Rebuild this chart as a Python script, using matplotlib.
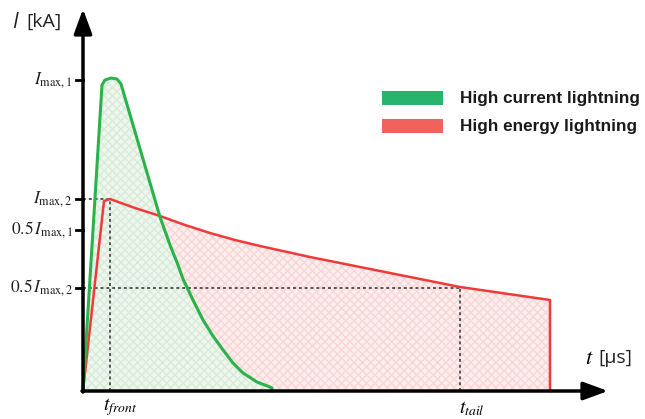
import matplotlib.pyplot as plt

plt.rcParams['mathtext.fontset'] = 'stix'

# waveform points (t in arbitrary units, I in arbitrary units)
t_green = [0, 19, 22, 28, 34, 38, 77, 87, 95, 100, 110, 120, 130, 140, 150, 160, 174, 187, 189, 189]
i_green = [0, 306, 311, 313, 312, 307, 174, 146, 126, 112, 91, 71, 55, 41, 28, 18, 9, 4, 3, 0]

t_red = [0, 21, 27, 52, 77, 102, 127, 152, 177, 227, 277, 327, 377, 467, 467]
i_red = [0, 190, 192, 183, 175, 166, 158, 151, 145, 134, 124, 114, 104, 91, 0]

tick_vals = [311, 192, 161, 103]
tick_labels = [r'$I_{\mathrm{max,1}}$', r'$I_{\mathrm{max,2}}$',
               r'$0.5\,I_{\mathrm{max,1}}$', r'$0.5\,I_{\mathrm{max,2}}$']

t_front, t_tail = 27, 377
legend_names = ['High current lightning', 'High energy lightning']

green_line = '#2bb34b'
red_line = '#f03a3a'

fig = plt.figure(figsize=(6.45, 4.19), dpi=100)
ax = fig.add_axes([0, 0, 1, 1])
ax.set_xlim(-83, 562)
ax.set_ylim(-28, 391)
ax.axis('off')

# fills
ax.fill(t_red, i_red, facecolor='#fdeeee', edgecolor='#f9d6d6', hatch='xxxx', lw=0, zorder=1)
ax.fill(t_green, i_green, facecolor='#eef6ee', edgecolor='#d8ebd8', hatch='xxxx', lw=0, zorder=2)
ax.plot(t_red, i_red, color=red_line, lw=1.8, zorder=4)
ax.plot(t_green, i_green, color=green_line, lw=2.2, zorder=5, solid_joinstyle='round')

# dotted guide lines
dot = dict(color='#555555', lw=1.4, ls=(0, (1.5, 1.5)), zorder=3)
ax.plot([0, t_front], [tick_vals[1]] * 2, **dot)
ax.plot([t_front, t_front], [0, tick_vals[1]], **dot)
ax.plot([0, t_tail], [tick_vals[3]] * 2, **dot)
ax.plot([t_tail, t_tail], [0, tick_vals[3]], **dot)

# axes with arrows
arrow = dict(arrowstyle='-|>,head_length=1.5,head_width=0.55', color='black', lw=2.5, shrinkA=0, shrinkB=0)
ax.annotate('', xy=(525, 0), xytext=(-1, 0), arrowprops=arrow, zorder=6)
ax.annotate('', xy=(0, 382), xytext=(0, -1), arrowprops=arrow, zorder=6)

for v, lab in zip(tick_vals, tick_labels):
    ax.plot([-7, 0], [v, v], color='black', lw=2, zorder=6)
    ax.text(-10, v, lab, ha='right', va='center', fontsize=12.5, color='#222222')

ax.text(-71, 369, 'I', fontsize=15, ha='left', va='center', style='italic', fontfamily='Open Sans', color='#222222')
ax.text(-57, 369, '[kA]', fontsize=14, ha='left', va='center', fontfamily='Open Sans', color='#222222')
ax.text(502, 33, r'$t$', fontsize=16, ha='left', va='center')
ax.text(515, 33, '[µs]', fontsize=14, ha='left', va='center', fontfamily='Open Sans', color='#222222')

ax.text(t_front + 10, -27, r'$t_{front}$', fontsize=14, ha='center', va='bottom')
ax.text(t_tail + 12, -27, r'$t_{tail}$', fontsize=14, ha='center', va='bottom')

# legend
for k, (name, col) in enumerate(zip(legend_names, ['#28b46c', '#f2625c'])):
    y = 293 - 28.5 * k
    ax.fill([299, 360, 360, 299], [y - 7, y - 7, y + 7, y + 7], color=col, lw=0)
    ax.text(377, y, name, fontsize=12.3, fontweight='bold', ha='left', va='center',
            fontfamily='Liberation Sans', color='#1a1a1a')

fig.savefig('out.png', dpi=100)
